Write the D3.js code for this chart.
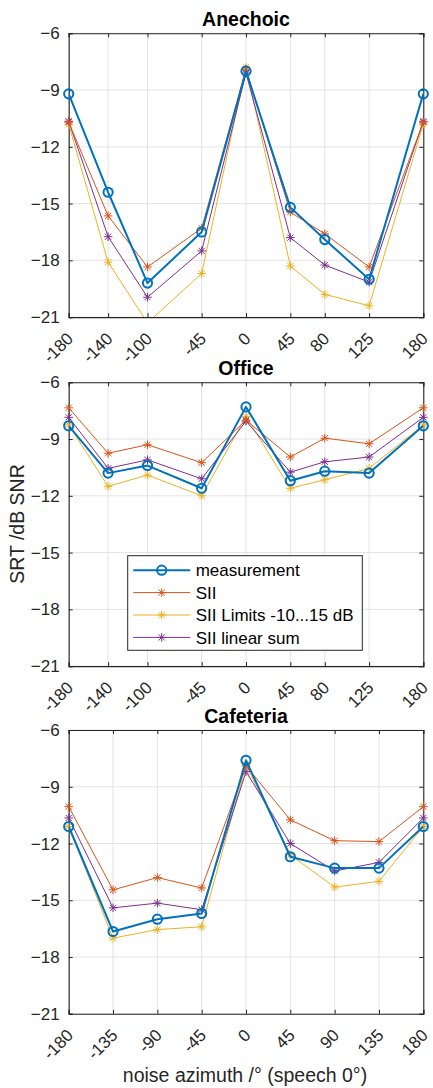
<!DOCTYPE html>
<html><head><meta charset="utf-8">
<script src="https://cdn.jsdelivr.net/npm/d3@7"></script>
<style>
html,body{margin:0;padding:0;background:#fff;}
svg{display:block;}
text{font-family:"Liberation Sans",Arial,Helvetica,sans-serif;}
</style></head>
<body>
<svg id="chart" width="433" height="1088"></svg>
<script>
// ---- data ----
const panelTitles = ["Anechoic", "Office", "Cafeteria"];
const seriesNames = ["measurement", "SII", "SII Limits -10...15 dB", "SII linear sum"];
const azimuthA = [-180, -140, -100, -45, 0, 45, 80, 125, 180];
const azimuthB = [-180, -140, -100, -45, 0, 45, 80, 125, 180];
const azimuthC = [-180, -135, -90, -45, 0, 45, 90, 135, 180];
const yTicks = [-6, -9, -12, -15, -18, -21];

const anechoicMeas = [-9.2, -14.4, -19.2, -16.5, -8.0, -15.2, -16.9, -19.0, -9.2];
const anechoicSII  = [-10.7, -15.65, -18.35, -16.3, -7.9, -15.45, -16.6, -18.35, -10.7];
const anechoicLim  = [-10.8, -18.1, -21.3, -18.7, -7.8, -18.3, -19.8, -20.4, -10.8];
const anechoicLin  = [-10.65, -16.75, -19.95, -17.5, -8.1, -16.8, -18.25, -19.15, -10.65];

const officeMeas = [-8.3, -10.8, -10.4, -11.6, -7.3, -11.2, -10.7, -10.8, -8.3];
const officeSII  = [-7.35, -9.75, -9.3, -10.25, -8.0, -9.95, -8.95, -9.25, -7.35];
const officeLim  = [-8.25, -11.5, -10.9, -12.0, -7.8, -11.6, -11.15, -10.55, -8.25];
const officeLin  = [-7.85, -10.55, -10.1, -11.1, -8.05, -10.75, -10.2, -9.95, -7.85];

const cafMeas = [-11.1, -16.65, -16.0, -15.7, -7.6, -12.7, -13.3, -13.3, -11.1];
const cafSII  = [-10.05, -14.45, -13.8, -14.35, -7.9, -10.75, -11.85, -11.9, -10.05];
const cafLim  = [-11.1, -17.0, -16.55, -16.4, -7.85, -12.6, -14.3, -14.0, -11.1];
const cafLin  = [-10.65, -15.4, -15.15, -15.5, -8.2, -12.0, -13.45, -13.0, -10.65];

const colors = ["#0072BD", "#D95319", "#EDB120", "#7E2F8E"];

const panels = [
  {title: panelTitles[0], x: azimuthA, series: [anechoicMeas, anechoicSII, anechoicLim, anechoicLin]},
  {title: panelTitles[1], x: azimuthB, series: [officeMeas, officeSII, officeLim, officeLin]},
  {title: panelTitles[2], x: azimuthC, series: [cafMeas, cafSII, cafLim, cafLin]}
];

// ---- layout ----
const svg = d3.select("#chart");
const left = 68.7, right = 423.3;
const tops = [33.3, 382.3, 730];
const ph = 283.8;
const axisCol = "#262626";
const tickFont = 17;

function asteriskPath(r) {
  const d = r * 0.72;
  return `M${-r},0L${r},0M0,${-r}L0,${r}M${-d},${-d}L${d},${d}M${-d},${d}L${d},${-d}`;
}

panels.forEach((p, pi) => {
  const top = tops[pi];
  const x = d3.scaleLinear().domain([-180, 180]).range([left, right]);
  const y = d3.scaleLinear().domain([-21, -6]).range([top + ph, top]);
  const g = svg.append("g");

  // grid
  g.append("g").selectAll("line.gx").data(p.x).join("line")
    .attr("x1", d => x(d)).attr("x2", d => x(d))
    .attr("y1", top).attr("y2", top + ph)
    .attr("stroke", "#e3e3e3").attr("stroke-width", 1);
  g.append("g").selectAll("line.gy").data(yTicks).join("line")
    .attr("x1", left).attr("x2", right)
    .attr("y1", d => y(d)).attr("y2", d => y(d))
    .attr("stroke", "#e3e3e3").attr("stroke-width", 1);

  // axes (inward ticks, box)
  const bottomAxis = d3.axisBottom(x).tickValues(p.x).tickSize(-4).tickFormat("");
  const topAxis = d3.axisTop(x).tickValues(p.x).tickSize(-4).tickFormat("");
  const leftAxis = d3.axisLeft(y).tickValues(yTicks).tickSize(-4).tickFormat("");
  const rightAxis = d3.axisRight(y).tickValues(yTicks).tickSize(-4).tickFormat("");
  [[bottomAxis, `translate(0,${top + ph})`], [topAxis, `translate(0,${top})`],
   [leftAxis, `translate(${left},0)`], [rightAxis, `translate(${right},0)`]].forEach(([ax, tr]) => {
    const a = g.append("g").attr("transform", tr).call(ax);
    a.select(".domain").attr("stroke", axisCol).attr("stroke-width", 1.1);
    a.selectAll(".tick line").attr("stroke", axisCol).attr("stroke-width", 1);
  });

  // tick labels
  g.append("g").selectAll("text").data(yTicks).join("text")
    .attr("x", left - 9).attr("y", d => y(d)).attr("dy", "0.36em")
    .attr("text-anchor", "end").attr("font-size", tickFont).attr("fill", axisCol)
    .text(d => d3.format("d")(d));
  g.append("g").selectAll("text").data(p.x).join("text")
    .attr("transform", d => `translate(${x(d) + 2},${top + ph + 19}) rotate(-45)`)
    .attr("dy", "0.3em")
    .attr("text-anchor", "end").attr("font-size", tickFont).attr("fill", axisCol)
    .text(d => d);

  // title
  g.append("text").attr("x", (left + right) / 2).attr("y", top - 7)
    .attr("text-anchor", "middle").attr("font-size", 19.5).attr("font-weight", "bold")
    .attr("fill", "#000").text(p.title);

  // clip
  const cid = "clip" + pi;
  svg.append("clipPath").attr("id", cid).append("rect")
    .attr("x", left).attr("y", top).attr("width", right - left).attr("height", ph);

  const line = d3.line().x((d, i) => x(p.x[i])).y(d => y(d));
  const order = [2, 3, 1, 0];
  order.forEach(si => {
    const vals = p.series[si];
    g.append("path").datum(vals).attr("d", line)
      .attr("fill", "none").attr("stroke", colors[si])
      .attr("stroke-width", si === 0 ? 2 : 1)
      .attr("stroke-linejoin", "round")
      .attr("clip-path", `url(#${cid})`);
    const pts = vals.map((v, i) => ({x: p.x[i], v})).filter(d => d.v >= -21 && d.v <= -6);
    if (si === 0) {
      g.append("g").selectAll("circle").data(pts).join("circle")
        .attr("cx", d => x(d.x)).attr("cy", d => y(d.v)).attr("r", 4.6)
        .attr("fill", "none").attr("stroke", colors[si]).attr("stroke-width", 2);
    } else {
      g.append("g").selectAll("path").data(pts).join("path")
        .attr("transform", d => `translate(${x(d.x)},${y(d.v)})`)
        .attr("d", asteriskPath(4.3))
        .attr("fill", "none").attr("stroke", colors[si]).attr("stroke-width", 1);
    }
  });

  // legend in office panel
  if (pi === 1) {
    const lg = g.append("g");
    const lx = 127.7, ly = 555.7, lw = 234.6, lh = 94.6;
    lg.append("rect").attr("x", lx).attr("y", ly).attr("width", lw).attr("height", lh)
      .attr("fill", "#fff").attr("stroke", axisCol).attr("stroke-width", 1);
    seriesNames.forEach((name, si) => {
      const yy = ly + 14.5 + si * 22.4;
      lg.append("line").attr("x1", lx + 5.5).attr("x2", lx + 62.5).attr("y1", yy).attr("y2", yy)
        .attr("stroke", colors[si]).attr("stroke-width", si === 0 ? 2 : 1);
      if (si === 0) {
        lg.append("circle").attr("cx", lx + 34).attr("cy", yy).attr("r", 4.6)
          .attr("fill", "none").attr("stroke", colors[si]).attr("stroke-width", 2);
      } else {
        lg.append("path").attr("transform", `translate(${lx + 34},${yy})`).attr("d", asteriskPath(4.3))
          .attr("fill", "none").attr("stroke", colors[si]).attr("stroke-width", 1);
      }
      lg.append("text").attr("x", lx + 68).attr("y", yy).attr("dy", "0.36em")
        .attr("font-size", tickFont).attr("fill", "#000").text(name);
    });
  }
});

// axis labels
svg.append("text").attr("transform", `translate(17,524) rotate(-90)`)
  .attr("dy", "0.36em").attr("text-anchor", "middle").attr("font-size", 19.5).attr("fill", axisCol)
  .text("SRT /dB SNR");
svg.append("text").attr("x", 245).attr("y", 1075).attr("dy", "0.36em")
  .attr("text-anchor", "middle").attr("font-size", 19.5).attr("fill", axisCol)
  .text("noise azimuth /° (speech 0°)");
</script>
</body></html>
